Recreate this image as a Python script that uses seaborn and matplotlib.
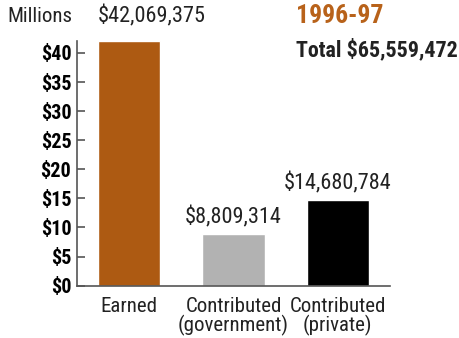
import matplotlib
matplotlib.use("Agg")
import matplotlib.pyplot as plt
import seaborn as sns
import pandas as pd

categories = ["Earned", "Contributed\n(government)", "Contributed\n(private)"]
amounts = [42069375, 8809314, 14680784]
bar_colors = ["#AD5A12", "#B2B2B2", "#000000"]
y_ticks = [0, 5, 10, 15, 20, 25, 30, 35, 40]
season = "1996-97"
total = 65559472

sns.set_theme(style="white")
plt.rcParams["font.family"] = ["Roboto Condensed", "Archivo Narrow", "DejaVu Sans"]

df = pd.DataFrame({"category": categories, "millions": [a / 1e6 for a in amounts]})

fig = plt.figure(figsize=(4.6, 3.38), dpi=100)
ax = fig.add_axes([0.167, 0.155, 0.681, 0.724])

bar_width = 0.6
sns.barplot(data=df, x="category", y="millions", hue="category",
            palette=bar_colors, width=bar_width, saturation=1, legend=False, ax=ax)

ax.set_xlim(-0.5, 2.5)
ax.set_ylim(0, max(df["millions"]))
ax.set_yticks(y_ticks)
ax.set_yticklabels([f"${t}" for t in y_ticks], fontsize=14.5, fontweight="bold", color="black")
ax.tick_params(axis="y", direction="in", length=6, width=1.2, color="#555555", pad=4, left=True)
ax.tick_params(axis="x", length=0, labelsize=15, labelcolor="#222222", pad=8)
for lbl in ax.get_xticklabels():
    lbl.set_linespacing(0.95)
ax.set_xlabel("")
ax.set_ylabel("")
for side in ["top", "right"]:
    ax.spines[side].set_visible(False)
for side in ["left", "bottom"]:
    ax.spines[side].set_color("#555555")
    ax.spines[side].set_linewidth(1.2)

# value labels above each bar; the tallest one starts at its bar's left edge,
# level with the "Millions" caption
top = max(amounts)
for i, a in enumerate(amounts):
    if a == top:
        ax.annotate(f"${a:,}", xy=(i - bar_width / 2, a / 1e6), xytext=(0, 10),
                    textcoords="offset points", ha="left", va="bottom",
                    fontsize=16, color="#222222")
    else:
        ax.annotate(f"${a:,}", xy=(i, a / 1e6), xytext=(0, 4), textcoords="offset points",
                    ha="center", va="bottom", fontsize=16, color="#222222")

fig.text(7 / 460, 1 - 16 / 338, "Millions", ha="left", va="center", fontsize=15, color="#222222")
fig.text(296 / 460, 1 - 16 / 338, season, ha="left", va="center", fontsize=18.5,
         fontweight="bold", color="#B8621A")
fig.text(296 / 460, 1 - 50 / 338, f"Total ${total:,}", ha="left", va="center", fontsize=15.8,
         fontweight="bold", color="#222222")

fig.savefig("out.png", dpi=100)
